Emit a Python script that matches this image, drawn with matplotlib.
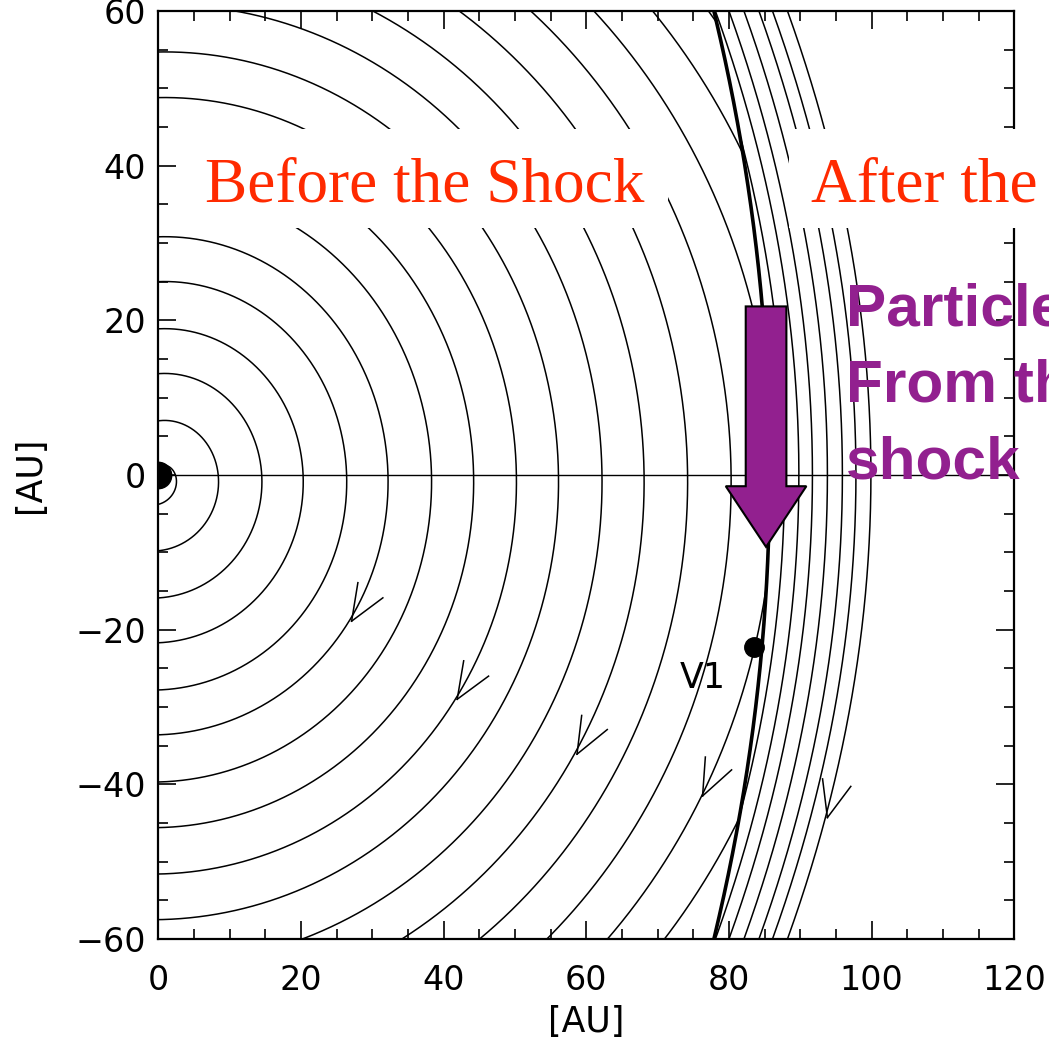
import numpy as np
import matplotlib
matplotlib.use("Agg")
import matplotlib.pyplot as plt
from matplotlib.patches import Rectangle, FancyArrow

# ---------------- data ----------------
# upstream (pre-shock) spiral field lines: radius where each crosses the +x axis [AU]
spiral_radii = [2.4, 8.4, 14.5, 20.3, 26.4, 32.2, 38.3, 44.2, 50.2, 56.1,
                62.2, 68.1, 74.2, 80.3, 86.3, 92.3, 98.3]
spiral_pitch = 0.89          # AU of radius gained per radian (clockwise)
# termination shock: nose position and curvature  x = nose - curv * y^2
shock_nose = 85.7
shock_curv = 0.00217
# downstream (compressed) field lines: x at y = 0 and curvature
downstream_x0 = [87.8, 89.8, 91.7, 93.8, 95.9, 97.8, 99.9]
downstream_curv = 0.00325
# flow-direction arrowheads on field lines (tip positions)
arrow_x = [27.1, 41.9, 58.7, 76.3, 93.8]
arrow_y = [-18.9, -29.0, -36.1, -41.5, -44.3]
# Voyager 1 position
v1_x, v1_y = 83.5, -22.3
v1_label = "V1"
# big purple arrow (top of shaft, tip)
big_arrow_x = 85.2
big_arrow_top = 21.8
big_arrow_tip = -9.3

xticks = [0, 20, 40, 60, 80, 100, 120]
yticks = [-60, -40, -20, 0, 20, 40, 60]
xlim = (0, 120)
ylim = (-60, 60)

before_text = "Before the Shock"
after_text = "After the Shock"
purple_lines = ["Particles", "From the", "shock"]
axis_label = "[AU]"

RED = "#FF2A00"
PURPLE = "#92208F"

# ---------------- figure ----------------
W, H = 1049, 1042
fig = plt.figure(figsize=(W / 100, H / 100), dpi=100)
ax = fig.add_axes([158.3 / W, (H - 939) / H, (1014.3 - 158.3) / W, (939 - 11) / H])
ax.set_xlim(*xlim)
ax.set_ylim(*ylim)
ax.set_axisbelow(False)


def shock_x(y):
    return shock_nose - shock_curv * np.asarray(y) ** 2


# upstream spirals, only inside the shock
phi = np.linspace(-np.pi / 2 * 1.05, np.pi / 2 * 1.05, 4000)
for r0 in spiral_radii:
    r = r0 - spiral_pitch * phi
    x = r * np.cos(phi)
    y = r * np.sin(phi)
    x = np.where(x <= shock_x(y), x, np.nan)
    ax.plot(x, y, color="k", lw=1.1, zorder=2)

# downstream compressed lines, only outside the shock
yy = np.linspace(-75, 75, 3000)
for x0 in downstream_x0:
    x = x0 - downstream_curv * yy ** 2
    x = np.where(x >= shock_x(yy), x, np.nan)
    ax.plot(x, yy, color="k", lw=1.1, zorder=2)

# shock
ax.plot(shock_x(yy), yy, color="k", lw=2.6, zorder=3)

# horizontal axis line
ax.axhline(0, color="k", lw=1.0, zorder=2)

# sun
ax.plot(0, 0, "o", ms=19, color="k", zorder=4, clip_on=True)

# arrowheads


def flow_dir(x, y):
    if x < shock_x(y):
        p = np.arctan2(y, x)
        r = np.hypot(x, y)
        return np.array([spiral_pitch * np.cos(p) + r * np.sin(p),
                         spiral_pitch * np.sin(p) - r * np.cos(p)])
    return np.array([2 * downstream_curv * y, -1.0])


inv = ax.transData.inverted()
barb_len = 39.0
half_ang = np.deg2rad(22)
for ax_, ay_ in zip(arrow_x, arrow_y):
    d = flow_dir(ax_, ay_)
    d = d / np.hypot(*d)
    p0 = ax.transData.transform((ax_, ay_))
    p1 = ax.transData.transform((ax_ + 0.01 * d[0], ay_ + 0.01 * d[1]))
    dd = (p1 - p0) / np.hypot(*(p1 - p0))
    back = -dd
    for s in (-1, 1):
        a = s * half_ang
        v = np.array([np.cos(a) * back[0] - np.sin(a) * back[1],
                      np.sin(a) * back[0] + np.cos(a) * back[1]])
        e = inv.transform(p0 + barb_len * v)
        ax.plot([ax_, e[0]], [ay_, e[1]], color="k", lw=1.1, zorder=3)

# Voyager 1
ax.plot(v1_x, v1_y, "o", ms=14, color="k", zorder=4)
ax.text(v1_x - 7.2, v1_y - 4.0, v1_label, fontsize=25, ha="center", va="center",
        family="DejaVu Sans", zorder=4)

# white boxes behind the red labels
ax.add_patch(Rectangle((0, 31.9), 71.5, 12.8, facecolor="white", edgecolor="none",
                       zorder=2.2))
ax.add_patch(Rectangle((88.4, 31.9), 60, 12.8, facecolor="white", edgecolor="none",
                       zorder=5, clip_on=False))
ax.text(6.5, 35.4, before_text, color=RED, fontsize=45.5, family="Liberation Serif",
        ha="left", va="baseline", zorder=2.4)
ax.text(91.5, 35.4, after_text, color=RED, fontsize=45.5, family="Liberation Serif",
        ha="left", va="baseline", zorder=5.5, clip_on=False)

# big purple arrow
ax.add_patch(FancyArrow(big_arrow_x, big_arrow_top, 0, big_arrow_tip - big_arrow_top,
                        width=5.7, head_width=11.3, head_length=7.85,
                        length_includes_head=True, facecolor=PURPLE, edgecolor="k",
                        lw=1.5, zorder=6, clip_on=False))

# purple text
for i, line in enumerate(purple_lines):
    ax.text(96.4, 19.3 - i * 9.85, line, color=PURPLE, fontsize=43.5,
            family="Liberation Sans", fontweight="bold", ha="left", va="baseline",
            zorder=7, clip_on=False)

# axes styling
ax.set_xticks(xticks)
ax.set_yticks(yticks)
ax.set_xticks(np.arange(0, 121, 5), minor=True)
ax.set_yticks(np.arange(-60, 61, 5), minor=True)
ax.tick_params(which="both", direction="in", top=True, right=True, width=1.2,
               labelsize=24)
ax.tick_params(which="major", length=13)
ax.tick_params(which="minor", length=7)
ax.tick_params(axis="x", pad=18)
ax.tick_params(axis="y", pad=9)
for sp in ax.spines.values():
    sp.set_linewidth(1.6)
ax.set_xlabel(axis_label, fontsize=25, labelpad=6)
ax.set_ylabel(axis_label, fontsize=25, labelpad=20)

fig.savefig("out.png", dpi=100)
